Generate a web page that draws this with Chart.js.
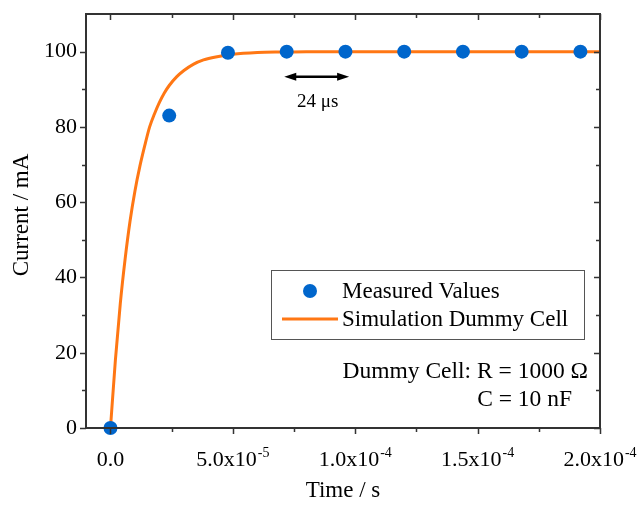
<!DOCTYPE html>
<html>
<head>
<meta charset="utf-8">
<script src="https://cdn.jsdelivr.net/npm/chart.js@4"></script>
<style>
  body { margin: 0; background: #fff; }
  #wrap { width: 640px; height: 505px; }
</style>
</head>
<body>
<div id="wrap"><canvas id="myChart" width="640" height="505"></canvas></div>
<script>
// measured points (time in s, current in mA)
var measTime = [0, 2.4e-5, 4.8e-5, 7.2e-5, 9.6e-5, 1.2e-4, 1.44e-4, 1.68e-4, 1.92e-4];
var measCurrent = [0, 83, 99.7, 100, 100, 100, 100, 100, 100];

// simulation curve
var simTime = [0, 2e-6, 4e-6, 6e-6, 8e-6, 1e-5, 1.2e-5, 1.4e-5, 1.6e-5, 1.8e-5, 2e-5, 2.2e-5, 2.4e-5, 2.7e-5, 3e-5, 3.4e-5, 3.8e-5, 4.3e-5, 5e-5, 6e-5, 7e-5, 8e-5, 1e-4, 1.5e-4, 2e-4];
var simCurrent = [0, 18, 33, 45, 55, 63, 69.5, 75, 80, 83.5, 86.5, 89, 91, 93.3, 95, 96.7, 97.8, 98.6, 99.3, 99.75, 99.9, 100, 100, 100, 100];

// x ticks: label mantissa + exponent ('' = minor tick)
var xTicks = [0, 2.5e-5, 5e-5, 7.5e-5, 1e-4, 1.25e-4, 1.5e-4, 1.75e-4, 2e-4];
var xMain = ['0.0', '', '5.0x10', '', '1.0x10', '', '1.5x10', '', '2.0x10'];
var xExp = ['', '', '-5', '', '-4', '', '-4', '', '-4'];
var yTicks = [0, 10, 20, 30, 40, 50, 60, 70, 80, 90, 100];

var blue = 'rgb(0,102,204)';
var orange = 'rgb(255,119,20)';
var serif = '"Liberation Serif", "DejaVu Serif", serif';

var frame = {
  id: 'frame',
  afterDraw: function (chart) {
    var c = chart.ctx, a = chart.chartArea;
    var xs = chart.scales.x, ys = chart.scales.y;
    c.save();
    c.strokeStyle = '#333';
    c.lineWidth = 2;
    c.strokeRect(a.left, a.top, a.right - a.left, a.bottom - a.top);
    c.lineWidth = 1.5;
    c.beginPath();
    xTicks.forEach(function (v, i) {
      var px = Math.round(xs.getPixelForValue(v)) + 0.5;
      var len = xMain[i] ? 6 : 4;
      c.moveTo(px, a.bottom); c.lineTo(px, a.bottom + len);
      c.moveTo(px, a.top); c.lineTo(px, a.top + len);
    });
    yTicks.forEach(function (v) {
      var py = Math.round(ys.getPixelForValue(v)) + 0.5;
      var len = v % 20 === 0 ? 6 : 4;
      c.moveTo(a.left, py); c.lineTo(a.left - len, py);
      c.moveTo(a.right, py); c.lineTo(a.right - len, py);
    });
    c.stroke();

    // x tick labels with raised exponent
    c.fillStyle = '#000';
    c.textBaseline = 'alphabetic';
    c.textAlign = 'left';
    xTicks.forEach(function (v, i) {
      if (!xMain[i]) return;
      c.font = '22px ' + serif;
      var w1 = c.measureText(xMain[i]).width;
      c.font = '14px ' + serif;
      var w2 = xExp[i] ? c.measureText(xExp[i]).width + 1 : 0;
      var x0 = xs.getPixelForValue(v) - (w1 + w2) / 2;
      c.font = '22px ' + serif;
      c.fillText(xMain[i], x0, a.bottom + 38);
      if (xExp[i]) {
        c.font = '14px ' + serif;
        c.fillText(xExp[i], x0 + w1 + 1, a.bottom + 29);
      }
    });

    // y axis title
    c.font = '23px ' + serif;
    c.textAlign = 'center'; c.textBaseline = 'middle';
    c.save();
    c.translate(22, 215);
    c.rotate(-Math.PI / 2);
    c.fillText('Current / mA', 0, 0);
    c.restore();

    // 24 us double arrow
    var ay = ys.getPixelForValue(93.3);
    var x1 = xs.getPixelForValue(7.1e-5), x2 = xs.getPixelForValue(9.75e-5);
    c.strokeStyle = '#000'; c.fillStyle = '#000'; c.lineWidth = 2.5;
    c.beginPath(); c.moveTo(x1 + 8, ay); c.lineTo(x2 - 8, ay); c.stroke();
    c.beginPath(); c.moveTo(x1, ay); c.lineTo(x1 + 12, ay - 4); c.lineTo(x1 + 12, ay + 4); c.closePath(); c.fill();
    c.beginPath(); c.moveTo(x2, ay); c.lineTo(x2 - 12, ay - 4); c.lineTo(x2 - 12, ay + 4); c.closePath(); c.fill();
    c.font = '19px ' + serif;
    c.fillText('24 \u03BCs', (x1 + x2) / 2 + 1, ay + 25);

    // legend box
    var lx = 271, ly = 270, lw = 313, lh = 69;
    c.lineWidth = 1; c.strokeStyle = '#555';
    c.strokeRect(lx + 0.5, ly + 0.5, lw, lh);
    c.fillStyle = blue;
    c.beginPath(); c.arc(310, 291, 7, 0, Math.PI * 2); c.fill();
    c.strokeStyle = orange; c.lineWidth = 3;
    c.beginPath(); c.moveTo(282, 319); c.lineTo(338, 319); c.stroke();
    c.fillStyle = '#000';
    c.font = '23px ' + serif;
    c.textAlign = 'left';
    c.fillText('Measured Values', 342, 292);
    c.fillText('Simulation Dummy Cell', 342, 320);

    c.font = '23.5px ' + serif;
    c.textAlign = 'right';
    c.fillText('Dummy Cell: R = 1000 \u03A9', 588, 372);
    c.fillText('C = 10 nF', 572, 400);
    c.restore();
  }
};

var ctx = document.getElementById('myChart').getContext('2d');
var myChart = new Chart(ctx, {
  type: 'scatter',
  data: {
    datasets: [{
      label: 'Simulation Dummy Cell',
      data: simTime.map(function (t, i) { return { x: t, y: simCurrent[i] }; }),
      showLine: true,
      borderColor: orange,
      borderWidth: 3,
      pointRadius: 0,
      cubicInterpolationMode: 'monotone',
      order: 2
    }, {
      label: 'Measured Values',
      data: measTime.map(function (t, i) { return { x: t, y: measCurrent[i] }; }),
      backgroundColor: blue,
      borderWidth: 0,
      pointRadius: 7,
      order: 1
    }]
  },
  options: {
    responsive: false,
    animation: false,
    clip: false,
    layout: { padding: { top: 14, right: 40, left: 0, bottom: 0 } },
    plugins: { legend: { display: false }, tooltip: { enabled: false } },
    scales: {
      x: {
        type: 'linear',
        min: -1e-5,
        max: 2e-4,
        afterBuildTicks: function (s) { s.ticks = xTicks.map(function (v) { return { value: v }; }); },
        afterFit: function (s) { s.height = 77; s.paddingLeft = 0; s.paddingRight = 0; },
        grid: { display: false },
        border: { display: false },
        ticks: { display: false },
        title: { display: true, text: 'Time / s', color: '#000', font: { family: serif, size: 23 }, padding: { top: 0, bottom: 0 } }
      },
      y: {
        min: 0,
        max: 110,
        afterBuildTicks: function (s) { s.ticks = yTicks.map(function (v) { return { value: v }; }); },
        afterFit: function (s) { s.width = 86; s.paddingTop = 0; s.paddingBottom = 0; },
        grid: { display: true, drawOnChartArea: false, drawTicks: false, color: 'rgba(0,0,0,0)' },
        border: { display: false },
        ticks: {
          autoSkip: false,
          padding: 9,
          color: '#000',
          font: { family: serif, size: 22 },
          callback: function (v) { return v % 20 === 0 ? String(v) : ''; }
        },
        title: { display: false }
      }
    }
  },
  plugins: [frame]
});
</script>
</body>
</html>
